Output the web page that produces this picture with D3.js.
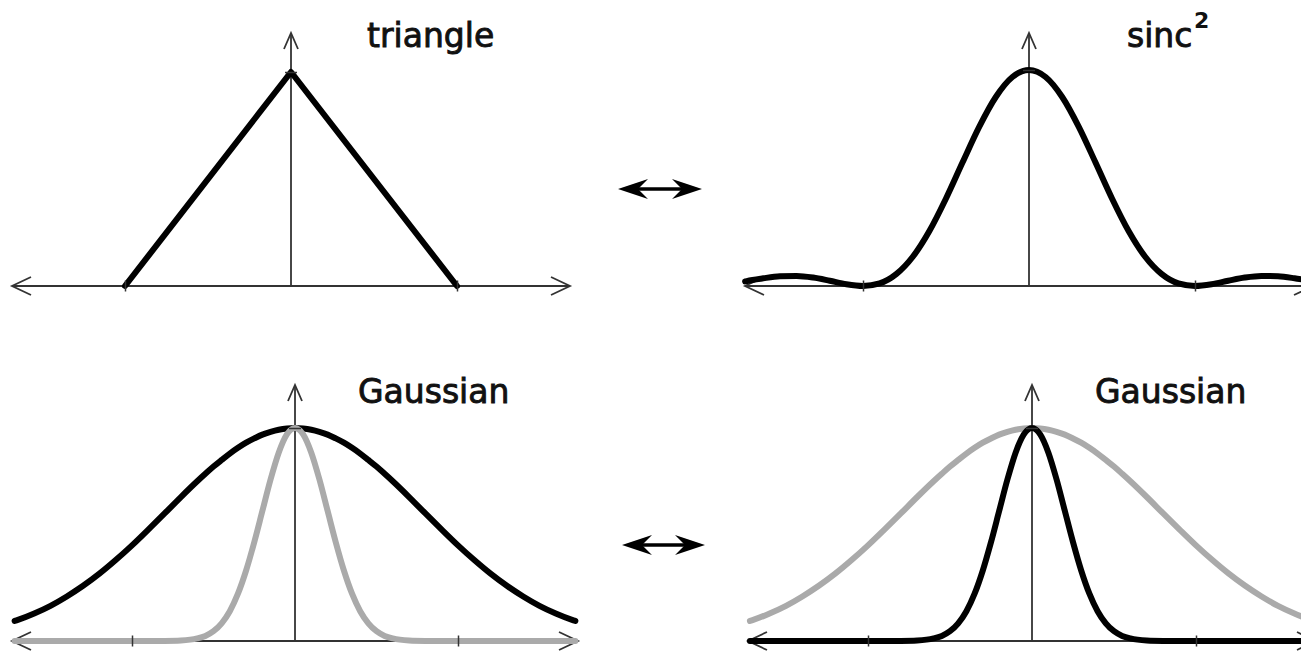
<!DOCTYPE html>
<html>
<head>
<meta charset="utf-8">
<script src="https://cdn.jsdelivr.net/npm/d3@7"></script>
<style>
  html, body { margin: 0; padding: 0; background: #fff; }
  svg { display: block; }
</style>
</head>
<body>
<svg id="chart" width="1301" height="654"></svg>
<script>
// ---------------- data (x in tick units, y relative to peak) ----------------
const triangleX = [-1, 0, 1];
const triangleY = [0, 1, 0];

const sincX = [-1.71, -1.7, -1.6, -1.5, -1.4, -1.3, -1.2, -1.1, -1.0, -0.9, -0.8, -0.7, -0.6, -0.5, -0.4, -0.3, -0.2, -0.1,
  0, 0.1, 0.2, 0.3, 0.4, 0.5, 0.6, 0.7, 0.8, 0.9, 1.0, 1.1, 1.2, 1.3, 1.4, 1.5, 1.6, 1.7, 1.71];
const sinc2Y = [0.021, 0.0229, 0.0358, 0.0450, 0.0468, 0.0392, 0.0243, 0.0080, 0, 0.0119, 0.0547, 0.1353, 0.2546, 0.4053, 0.5728, 0.7368, 0.8751, 0.9675,
  1, 0.9675, 0.8751, 0.7368, 0.5728, 0.4053, 0.2546, 0.1353, 0.0547, 0.0119, 0, 0.0080, 0.0243, 0.0392, 0.0468, 0.0450, 0.0358, 0.0229, 0.021];

const gaussX = [-1.72, -1.7, -1.6, -1.5, -1.4, -1.3, -1.2, -1.1, -1.0, -0.9, -0.8, -0.7, -0.6, -0.55, -0.5, -0.45, -0.4, -0.35, -0.3, -0.25, -0.2, -0.15, -0.1, -0.05,
  0, 0.05, 0.1, 0.15, 0.2, 0.25, 0.3, 0.35, 0.4, 0.45, 0.5, 0.55, 0.6, 0.7, 0.8, 0.9, 1.0, 1.1, 1.2, 1.3, 1.4, 1.5, 1.6, 1.7, 1.72];
const gaussWideY = [0.094, 0.099, 0.129, 0.165, 0.209, 0.259, 0.316, 0.380, 0.449, 0.523, 0.599, 0.676, 0.750, 0.785, 0.819, 0.850, 0.880, 0.907, 0.931, 0.951, 0.969, 0.982, 0.992, 0.998,
  1, 0.998, 0.992, 0.982, 0.969, 0.951, 0.931, 0.907, 0.880, 0.850, 0.819, 0.785, 0.750, 0.676, 0.599, 0.523, 0.449, 0.380, 0.316, 0.259, 0.209, 0.165, 0.129, 0.099, 0.094];
const gaussNarrowY = [0, 0, 0, 0, 0, 0, 0, 0, 0, 0, 0.0004, 0.0024, 0.012, 0.024, 0.046, 0.083, 0.140, 0.222, 0.331, 0.464, 0.611, 0.758, 0.884, 0.970,
  1, 0.970, 0.884, 0.758, 0.611, 0.464, 0.331, 0.222, 0.140, 0.083, 0.046, 0.024, 0.012, 0.0024, 0.0004, 0, 0, 0, 0, 0, 0, 0, 0, 0, 0];

const tickValuesX = [-1, 1];
const labels = ["triangle", "sinc", "Gaussian", "Gaussian"];
const superscript = "2";

// ---------------- layout ----------------
const svg = d3.select("#chart");
const BLACK = "#000", GRAY = "#aaaaaa", AXIS = "#333";

const panels = [
  { cx: 291,  base: 286, peak: 72,  unit: 166, half: 279, vTip: 33 },
  { cx: 1029, base: 286, peak: 70,  unit: 166, half: 284, vTip: 33 },
  { cx: 295,  base: 641, peak: 428, unit: 163, half: 283, vTip: 385 },
  { cx: 1032, base: 641, peak: 428, unit: 164, half: 284, vTip: 385 }
];
panels.forEach(p => {
  p.x = d3.scaleLinear().domain([-1, 1]).range([p.cx - p.unit, p.cx + p.unit]);
  p.y = d3.scaleLinear().domain([0, 1]).range([p.base, p.peak]);
});

function drawAxes(p) {
  const g = svg.append("g");
  const x0 = p.cx - p.half, x1 = p.cx + p.half;
  g.append("line").attr("x1", x0).attr("x2", x1).attr("y1", p.base).attr("y2", p.base)
    .attr("stroke", AXIS).attr("stroke-width", 1.8);
  g.append("line").attr("x1", p.cx).attr("x2", p.cx).attr("y1", p.base).attr("y2", p.vTip)
    .attr("stroke", AXIS).attr("stroke-width", 1.8);
  const ah = 19, aw = 9;
  g.append("path").attr("d", `M${x0 + ah},${p.base - aw}L${x0},${p.base}L${x0 + ah},${p.base + aw}`)
    .attr("fill", "none").attr("stroke", AXIS).attr("stroke-width", 1.8);
  g.append("path").attr("d", `M${x1 - ah},${p.base - aw}L${x1},${p.base}L${x1 - ah},${p.base + aw}`)
    .attr("fill", "none").attr("stroke", AXIS).attr("stroke-width", 1.8);
  g.append("path").attr("d", `M${p.cx - 7},${p.vTip + 16}L${p.cx},${p.vTip}L${p.cx + 7},${p.vTip + 16}`)
    .attr("fill", "none").attr("stroke", AXIS).attr("stroke-width", 1.8);
}

function drawTicks(p) {
  const ax = d3.axisBottom(p.x).tickValues(tickValuesX).tickSize(11).tickFormat("");
  const gx = svg.append("g").attr("transform", `translate(0,${p.base - 5.5})`).call(ax);
  gx.select(".domain").remove();
  gx.selectAll(".tick line").attr("stroke", AXIS).attr("stroke-width", 1.5);
  const ay = d3.axisLeft(p.y).tickValues([1]).tickSize(12).tickFormat("");
  const gy = svg.append("g").attr("transform", `translate(${p.cx + 6},0)`).call(ay);
  gy.select(".domain").remove();
  gy.selectAll(".tick line").attr("stroke", AXIS).attr("stroke-width", 1.5);
}

function drawCurve(p, xs, ys, color, curve) {
  const line = d3.line().x(d => p.x(d[0])).y(d => p.y(d[1])).curve(curve);
  svg.append("path").datum(xs.map((v, i) => [v, ys[i]]))
    .attr("d", line).attr("fill", "none").attr("stroke", color)
    .attr("stroke-width", 6).attr("stroke-linejoin", "round").attr("stroke-linecap", "round");
}

panels.forEach(drawAxes);

drawCurve(panels[0], triangleX, triangleY, BLACK, d3.curveLinear);
drawCurve(panels[1], sincX, sinc2Y, BLACK, d3.curveMonotoneX);
drawCurve(panels[2], gaussX, gaussWideY, BLACK, d3.curveMonotoneX);
drawCurve(panels[2], gaussX, gaussNarrowY, GRAY, d3.curveMonotoneX);
drawCurve(panels[3], gaussX, gaussWideY, GRAY, d3.curveMonotoneX);
drawCurve(panels[3], gaussX, gaussNarrowY, BLACK, d3.curveMonotoneX);

panels.forEach(drawTicks);

// ---------------- labels ----------------
const font = "'DejaVu Sans', sans-serif";
const labelPos = [[367, 47], [1127, 47], [358, 403], [1095, 403]];
labels.forEach((t, i) => {
  svg.append("text").attr("x", labelPos[i][0]).attr("y", labelPos[i][1])
    .attr("font-family", font).attr("font-size", 33).attr("fill", "#111")
    .attr("stroke", "#111").attr("stroke-width", 0.9).text(t);
});
svg.append("text").attr("x", 1194).attr("y", 28).attr("font-family", font)
  .attr("font-size", 22).attr("font-weight", "bold").attr("fill", "#111").text(superscript);

// ---------------- double arrows ----------------
function doubleArrow(x0, x1, y) {
  const hl = 30, hw = 10, notch = 20;
  svg.append("line").attr("x1", x0 + notch).attr("x2", x1 - notch).attr("y1", y).attr("y2", y)
    .attr("stroke", BLACK).attr("stroke-width", 3.5);
  svg.append("path").attr("d", `M${x0},${y}L${x0 + hl},${y - hw}L${x0 + notch},${y}L${x0 + hl},${y + hw}Z`).attr("fill", BLACK);
  svg.append("path").attr("d", `M${x1},${y}L${x1 - hl},${y - hw}L${x1 - notch},${y}L${x1 - hl},${y + hw}Z`).attr("fill", BLACK);
}
doubleArrow(618, 702, 189);
doubleArrow(622, 705, 545);
</script>
</body>
</html>
